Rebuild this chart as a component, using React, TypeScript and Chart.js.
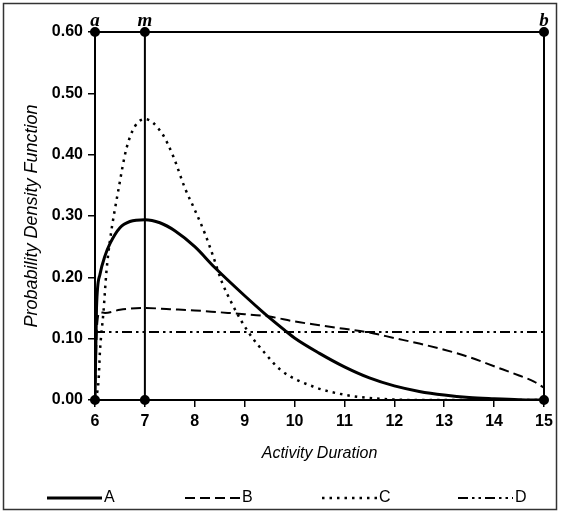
import React, { useEffect, useRef } from 'react';
import { Chart, registerables } from 'chart.js';

Chart.register(...registerables);

// ---- data ----
const seriesNames = ['A', 'B', 'C', 'D'];

const aX = [6, 6.03, 6.1, 6.2, 6.3, 6.5, 6.7, 7, 7.3, 7.6, 8, 8.4, 9, 9.4, 9.8, 10, 10.5, 11, 11.5, 12, 12.5, 13, 13.5, 14, 14.5, 15];
const aY = [0, 0.15, 0.205, 0.235, 0.255, 0.281, 0.291, 0.294, 0.289, 0.276, 0.25, 0.216, 0.17, 0.141, 0.114, 0.101, 0.076, 0.054, 0.036, 0.023, 0.014, 0.008, 0.004, 0.002, 0.0005, 0];

const bX = [6, 6.04, 6.1, 6.2, 6.5, 7, 7.5, 8, 8.5, 9, 9.5, 10, 10.5, 11, 11.5, 12, 12.5, 13, 13.5, 14, 14.5, 14.8, 15];
const bY = [0, 0.12, 0.143, 0.142, 0.147, 0.15, 0.148, 0.146, 0.143, 0.14, 0.136, 0.128, 0.122, 0.116, 0.11, 0.101, 0.092, 0.082, 0.07, 0.055, 0.04, 0.03, 0.02];

const cX = [6, 6.07, 6.1, 6.17, 6.23, 6.3, 6.47, 6.63, 6.8, 7, 7.34, 7.57, 7.8, 8, 8.2, 8.37, 8.54, 8.74, 8.94, 9.14, 9.4, 9.72, 10.37, 11.04, 11.7, 12.5, 15];
const cY = [0, 0.03, 0.08, 0.144, 0.21, 0.26, 0.343, 0.41, 0.446, 0.458, 0.435, 0.397, 0.346, 0.31, 0.272, 0.234, 0.193, 0.158, 0.128, 0.103, 0.077, 0.049, 0.022, 0.008, 0.002, 0, 0];

const dX = [6, 15];
const dY = [0.111, 0.111];

// triangular-distribution frame (a, m, b)
const frameX = [6, 6, 15, 15];
const frameY = [0, 0.6, 0.6, 0];
const modeX = [7, 7];
const modeY = [0, 0.6];
const markerLabels = ['a', 'm', 'b'];
const markerX = [6, 7, 15];
const markerY = 0.6;

const xTitle = 'Activity Duration';
const yTitle = 'Probability Density Function';

const zip = (xs: number[], ys: number[]) => xs.map((x, i) => ({ x, y: ys[i] }));

const SANS = '"Liberation Sans", Arial, sans-serif';

export default function App() {
  const ref = useRef<HTMLCanvasElement | null>(null);

  useEffect(() => {
    document.body.style.margin = '0';
    const canvas = ref.current;
    if (!canvas) return;

    const curveBase = {
      borderColor: '#000',
      backgroundColor: '#000',
      pointRadius: 0,
      fill: false,
      cubicInterpolationMode: 'monotone' as const,
    };

    const legendPlugin = {
      id: 'customLegend',
      afterDraw(chart: any) {
        const ctx = chart.ctx;
        const starts = [47, 185, 322, 458];
        const len = 55;
        const y = 498;
        ctx.save();
        chart.data.datasets.forEach((ds: any, i: number) => {
          if (i >= seriesNames.length) return;
          const x0 = starts[i];
          ctx.beginPath();
          ctx.setLineDash(ds.borderDash || []);
          ctx.lineWidth = ds.borderWidth;
          ctx.strokeStyle = '#000';
          ctx.moveTo(x0, y);
          ctx.lineTo(x0 + len, y);
          ctx.stroke();
          ctx.setLineDash([]);
          ctx.fillStyle = '#000';
          ctx.font = `16px ${SANS}`;
          ctx.textBaseline = 'middle';
          ctx.textAlign = 'left';
          ctx.fillText(ds.label, x0 + len + 2, y);
        });
        // outer frame
        ctx.lineWidth = 1.5;
        ctx.strokeStyle = '#333';
        ctx.strokeRect(3.5, 3.5, 553, 506);
        // a, m, b markers
        const xs = chart.scales.x;
        const ys = chart.scales.y;
        ctx.font = 'italic bold 19px "Liberation Serif", "Times New Roman", serif';
        ctx.textAlign = 'center';
        ctx.textBaseline = 'alphabetic';
        markerLabels.forEach((t, i) => {
          ctx.fillText(t, xs.getPixelForValue(markerX[i]), ys.getPixelForValue(markerY) - 6);
        });
        ctx.restore();
      },
    };

    const chart = new Chart(canvas, {
      type: 'line',
      data: {
        datasets: [
          { ...curveBase, label: seriesNames[0], data: zip(aX, aY), borderWidth: 3 },
          { ...curveBase, label: seriesNames[1], data: zip(bX, bY), borderWidth: 2, borderDash: [10, 5] },
          { ...curveBase, label: seriesNames[2], data: zip(cX, cY), borderWidth: 2.5, borderDash: [2.5, 5] },
          { ...curveBase, label: seriesNames[3], data: zip(dX, dY), borderWidth: 2, borderDash: [10, 4, 2.5, 4, 2.5, 4] },
          {
            label: 'frame', data: zip(frameX, frameY), borderColor: '#000', backgroundColor: '#000',
            borderWidth: 2, pointRadius: 4, pointHoverRadius: 4, tension: 0, clip: false as any,
          },
          {
            label: 'mode', data: zip(modeX, modeY), borderColor: '#000', backgroundColor: '#000',
            borderWidth: 2, pointRadius: 4, pointHoverRadius: 4, tension: 0, clip: false as any,
          },
        ],
      },
      options: {
        responsive: false,
        animation: false,
        events: [],
        layout: { padding: { left: 14, top: 32, right: 18, bottom: 43 } },
        plugins: {
          legend: { display: false },
          tooltip: { enabled: false },
          title: { display: false },
        },
        scales: {
          x: {
            type: 'linear',
            min: 6,
            max: 15,
            afterFit: (s: any) => { s.height = 70; },
            ticks: { stepSize: 1, color: '#000', font: { family: SANS, size: 16, weight: 'bold' }, padding: 5, maxRotation: 0 },
            grid: { drawOnChartArea: false, drawTicks: true, tickLength: 7, color: '#000', lineWidth: 1.5 },
            border: { display: true, color: '#000', width: 2 },
            title: { display: true, text: xTitle, color: '#000', font: { family: SANS, size: 16, style: 'italic' }, padding: { top: 0, bottom: 7 } },
          },
          y: {
            type: 'linear',
            min: 0,
            max: 0.6,
            afterFit: (s: any) => { s.width = 81; },
            ticks: { stepSize: 0.1, color: '#000', font: { family: SANS, size: 16, weight: 'bold' }, padding: 5, callback: (v: any) => Number(v).toFixed(2) },
            grid: { drawOnChartArea: false, drawTicks: true, tickLength: 7, color: '#000', lineWidth: 1.5 },
            border: { display: true, color: '#000', width: 2 },
            title: { display: true, text: yTitle, color: '#000', font: { family: SANS, size: 18, style: 'italic' }, padding: { top: 7, bottom: 0 } },
          },
        },
      },
      plugins: [legendPlugin],
    } as any);

    return () => chart.destroy();
  }, []);

  return (
    <div style={{ width: 562, height: 513, position: 'relative', background: '#fff' }}>
      <canvas ref={ref} width={562} height={513} style={{ display: 'block' }} />
    </div>
  );
}
